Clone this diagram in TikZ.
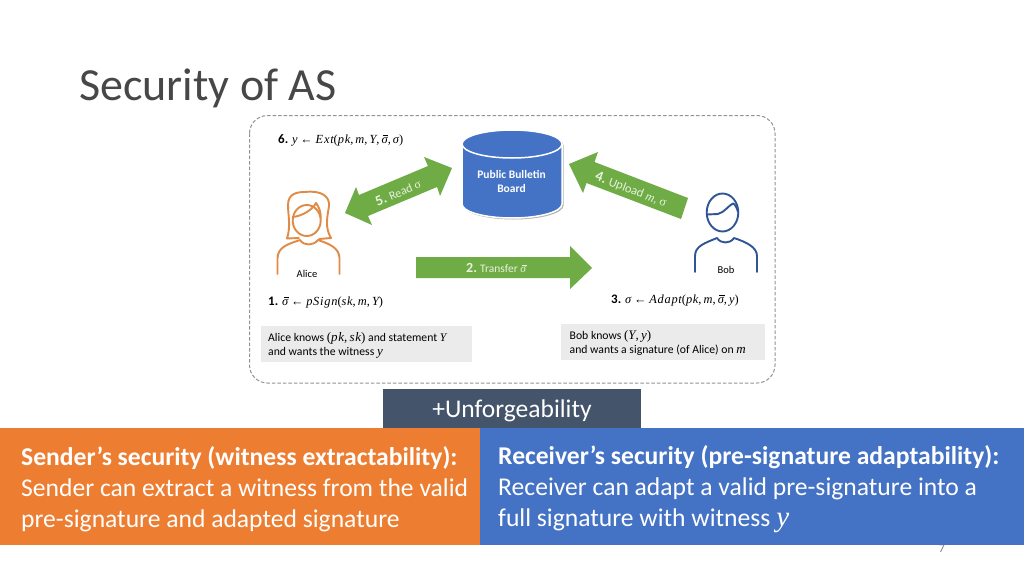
\documentclass[tikz,border=0pt]{standalone}
\usepackage{fontspec}
\setmainfont{Carlito}
\newfontfamily\mf[LetterSpace=6]{Liberation Serif}
\newcommand{\mi}[1]{{\mf\itshape #1}}
\newcommand{\rn}[1]{{\mf #1}}
\newcommand{\sgbar}{\rlap{\kern.13em\raisebox{.56em}{\rule{.42em}{.05em}}}σ}
\definecolor{arrowgreen}{HTML}{6FAC46}
\definecolor{panelblue}{HTML}{4472C4}
\definecolor{panelorange}{HTML}{ED7D31}
\definecolor{darkslate}{HTML}{44546A}
\definecolor{notegrey}{HTML}{EBEBEB}
\definecolor{alicecol}{HTML}{E08A45}
\definecolor{bobcol}{HTML}{2F5597}
\definecolor{arrowtext}{HTML}{E6F2DD}
\tikzset{
  txt/.style={anchor=base west,inner sep=0pt,text=black},
  ctxt/.style={anchor=base,inner sep=0pt,text=black,align=center},
  wtxt/.style={anchor=base west,inner sep=0pt,text=white},
  blockarrow/.style={fill=arrowgreen,draw=none},
  note/.style={fill=notegrey,draw=none},
  person/.style={line width=1.9pt,line cap=round,line join=round},
}
\newcommand{\fs}[1]{\fontsize{#1}{#1}\selectfont}
\begin{document}
\begin{tikzpicture}[x=1pt,y=-1pt]
\useasboundingbox (0,0) rectangle (1024,576);
\fill[white] (0,0) rectangle (1024,576);
% title
\node[txt,text=black!72] (title) at (79,100) {\fs{46}Security of AS};
% dashed frame
\draw[dash pattern=on 3.5pt off 2pt,draw=gray!85,line width=1pt,rounded corners=18pt] (249.5,115.5) rectangle (775,383);
% cylinder
\begin{scope}[shift={(1.5,1.5)}]
\fill[black!30] (462,144) arc[x radius=50,y radius=14,start angle=180,end angle=360] -- (562,204) arc[x radius=50,y radius=14,start angle=0,end angle=180] -- cycle;
\end{scope}
\draw[fill=panelblue,draw=white,line width=1.5pt] (462,144) arc[x radius=50,y radius=14,start angle=180,end angle=360] -- (562,204) arc[x radius=50,y radius=14,start angle=0,end angle=180] -- cycle;
\draw[white,line width=1.5pt] (462,144) arc[x radius=50,y radius=14,start angle=180,end angle=0];
\node[ctxt,text=white] (board1) at (511.5,178) {\fs{11.5}\bfseries Public Bulletin};
\node[ctxt,text=white] (board2) at (511.5,192) {\fs{11.5}\bfseries Board};
% block arrows
\fill[blockarrow] (345,213)--(356,187)--(359,195)--(428,166)--(424,157)--(452,168)--(440,196)--(437,187)--(368,216)--(372,225)--cycle;
\fill[blockarrow] (569,164)--(598,152)--(594.5,162)--(688,198)--(681,219)--(586.5,183)--(583,193)--cycle;
\fill[blockarrow] (416,257)--(570,257)--(570,246)--(592,268)--(570,289)--(570,278)--(416,278)--cycle;
\node[inner sep=0pt,rotate=22.8,text=arrowtext] (readlab) at (398,192.5) {\fs{14.5}\bfseries 5.\ \fs{12}\mdseries Read \rn{σ}};
\node[inner sep=0pt,rotate=-21,text=arrowtext] (uplab) at (631,190) {\fs{14.5}\bfseries 4.\ \fs{12.5}\mdseries Upload \mi{m}, \rn{σ}};
\node[wtxt,text=arrowtext] (translab) at (466,272) {\fs{14}\bfseries 2.\ \fs{11.5}\mdseries Transfer \mi{\sgbar}};
% Alice
\begin{scope}[person]
\draw[alicecol] (277.5,274) -- (277.5,258) .. controls (278,247) and (288,244) .. (300,240) .. controls (304,246) and (313,246) .. (318,240) .. controls (330,244) and (339,248) .. (339.5,258) -- (339.5,274);
\draw[alicecol] (306.7,220.5) ellipse[x radius=14,y radius=15.5];
\draw[alicecol] (292.7,217) .. controls (303,216) and (313,209) .. (316,203) .. controls (319,207) and (321,212) .. (320.7,218);
\draw[alicecol] (299,238) -- (287,238.5) .. controls (291,226) and (288,215) .. (288,205) .. controls (288,193) and (298,192) .. (305,192) .. controls (322,190) and (330,197) .. (329,206) .. controls (327,218) and (325,228) .. (331,238) -- (319,239);
\end{scope}
\node[ctxt] (alice) at (307,277) {\fs{10.5}Alice};
% Bob
\begin{scope}[person]
\draw[bobcol] (695,272) -- (695,256) .. controls (695,246) and (705,243) .. (717,238) .. controls (721,244) and (730,244) .. (734,238) .. controls (746,242) and (757,247) .. (757,256) -- (757,272);
\draw[bobcol] (722.5,212.5) ellipse[x radius=15.8,y radius=19];
\draw[bobcol] (707,214.5) -- (718,214) .. controls (725,212) and (729,205) .. (733,203.5) .. controls (735,204) and (737,208) .. (738,212);
\end{scope}
\node[ctxt] (bob) at (726,273) {\fs{10.5}Bob};
% protocol steps
\node[txt] (s6) at (278,143) {\fs{13}\bfseries 6. \fs{12.4}\mdseries \mi{y} \rn{←} \mi{Ext}\rn{(}\mi{pk}\rn{,}\,\mi{m}\rn{,}\,\mi{Y}\rn{,}\,\mi{\sgbar}\rn{,}\,\mi{σ}\rn{)}};
\node[txt] (s1) at (268,305) {\fs{13}\bfseries 1. \fs{12.4}\mdseries \mi{\sgbar} \rn{←} \mi{pSign}\rn{(}\mi{sk}\rn{,}\,\mi{m}\rn{,}\,\mi{Y}\rn{)}};
\node[txt] (s3) at (611,303) {\fs{13}\bfseries 3. \fs{12.4}\mdseries \mi{σ} \rn{←} \mi{Adapt}\rn{(}\mi{pk}\rn{,}\,\mi{m}\rn{,}\,\mi{\sgbar}\rn{,}\,\mi{y}\rn{)}};
% notes
\fill[note] (261,326) rectangle (472,361.5);
\fill[note] (561,324) rectangle (765,360);
\node[txt] (an1) at (268,341) {\fs{11.7}Alice knows {\fs{13}\rn{(}\mi{pk}\rn{,}\,\mi{sk}\rn{)}} and statement \mi{Y}};
\node[txt] (an2) at (268,355) {\fs{11.7}and wants the witness {\fs{13}\mi{y}}};
\node[txt] (bn1) at (569.5,339) {\fs{11.7}Bob knows {\fs{13}\rn{(}\mi{Y}\rn{,}\,\mi{y}\rn{)}}};
\node[txt] (bn2) at (569.5,353) {\fs{11.7}and wants a signature (of Alice) on {\fs{13}\mi{m}}};
% bottom
\node[ctxt,text=gray] (page) at (942,552) {\fs{12}7};
\fill[darkslate] (383,389) rectangle (641,428);
\node[ctxt,text=white] (unf) at (512,417.5) {\fs{25.5}+Unforgeability};
\fill[panelorange] (0,428) rectangle (480,545);
\fill[panelblue] (480,428) rectangle (1024,545);
\node[wtxt] (l1) at (21,465) {\fs{25.6}\bfseries Sender’s security (witness extractability):};
\node[wtxt] (l2) at (21,496) {\fs{25.6}Sender can extract a witness from the valid};
\node[wtxt] (l3) at (21,527) {\fs{25.6}pre-signature and adapted signature};
\node[wtxt] (r1) at (498,464.5) {\fs{25.6}\bfseries Receiver’s security (pre-signature adaptability):};
\node[wtxt] (r2) at (498,495.5) {\fs{25.6}Receiver can adapt a valid pre-signature into a};
\node[wtxt] (r3) at (498,526) {\fs{25.6}full signature with witness {\fs{29}\mi{y}}};
\end{tikzpicture}
\end{document}
